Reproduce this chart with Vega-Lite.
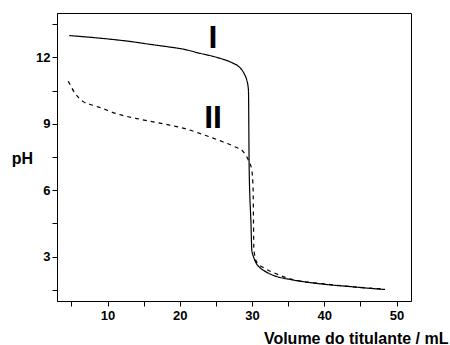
{
  "$schema": "https://vega.github.io/schema/vega-lite/v6.json",
  "width": 354,
  "height": 288,
  "autosize": {"type": "none"},
  "padding": {"left": 57, "top": 13, "right": 39, "bottom": 44},
  "background": "white",
  "config": {
    "font": "Liberation Sans",
    "view": {"stroke": "black", "strokeWidth": 1},
    "axis": {
      "grid": false,
      "domainColor": "black",
      "domainWidth": 1,
      "tickColor": "black",
      "tickSize": 5,
      "labelColor": "black",
      "labelFont": "Liberation Sans",
      "labelFontWeight": "bold",
      "labelFontSize": 13,
      "labelOverlap": false,
      "titleColor": "black",
      "titleFont": "Liberation Sans",
      "titleFontWeight": "bold",
      "titleFontSize": 16
    }
  },
  "encoding": {
    "x": {
      "field": "v", "type": "quantitative",
      "scale": {"domain": [3, 52], "nice": false, "zero": false},
      "axis": {
        "values": [5, 10, 15, 20, 25, 30, 35, 40, 45, 50],
        "labelExpr": "datum.value % 10 === 0 ? format(datum.value, 'd') : ''",
        "labelPadding": 3,
        "title": "Volume do titulante / mL",
        "titleAnchor": "end",
        "titleAlign": "right",
        "titleX": 391,
        "titleY": 42,
        "titleBaseline": "alphabetic"
      }
    },
    "y": {
      "field": "pH", "type": "quantitative",
      "scale": {"domain": [1, 14], "nice": false, "zero": false},
      "axis": {
        "values": [1.5, 3, 4.5, 6, 7.5, 9, 10.5, 12, 13.5],
        "labelExpr": "datum.value % 3 === 0 ? format(datum.value, 'd') : ''",
        "labelPadding": 2,
        "title": "pH",
        "titleAngle": 0,
        "titleAlign": "center",
        "titleBaseline": "middle",
        "titleX": -35,
        "titleY": 145
      }
    }
  },
  "layer": [
    {
      "data": {
        "values": [
          {"v": 4.7, "pH": 12.98, "s": "I"},
          {"v": 7, "pH": 12.92, "s": "I"},
          {"v": 10, "pH": 12.83, "s": "I"},
          {"v": 13, "pH": 12.72, "s": "I"},
          {"v": 16, "pH": 12.58, "s": "I"},
          {"v": 18, "pH": 12.49, "s": "I"},
          {"v": 20.6, "pH": 12.36, "s": "I"},
          {"v": 22.8, "pH": 12.18, "s": "I"},
          {"v": 24.5, "pH": 12.05, "s": "I"},
          {"v": 25.6, "pH": 11.95, "s": "I"},
          {"v": 27.4, "pH": 11.73, "s": "I"},
          {"v": 28.1, "pH": 11.6, "s": "I"},
          {"v": 28.6, "pH": 11.43, "s": "I"},
          {"v": 29.0, "pH": 11.2, "s": "I"},
          {"v": 29.27, "pH": 10.97, "s": "I"},
          {"v": 29.5, "pH": 10.52, "s": "I"},
          {"v": 29.6, "pH": 7.0, "s": "I"},
          {"v": 29.85, "pH": 4.5, "s": "I"},
          {"v": 29.97, "pH": 3.28, "s": "I"},
          {"v": 30.2, "pH": 3.0, "s": "I"},
          {"v": 30.5, "pH": 2.75, "s": "I"},
          {"v": 31.1, "pH": 2.5, "s": "I"},
          {"v": 31.6, "pH": 2.38, "s": "I"},
          {"v": 32.5, "pH": 2.22, "s": "I"},
          {"v": 33.0, "pH": 2.15, "s": "I"},
          {"v": 35.3, "pH": 1.97, "s": "I"},
          {"v": 37.6, "pH": 1.85, "s": "I"},
          {"v": 40.4, "pH": 1.74, "s": "I"},
          {"v": 43.6, "pH": 1.65, "s": "I"},
          {"v": 46, "pH": 1.58, "s": "I"},
          {"v": 48.4, "pH": 1.52, "s": "I"},
          {"v": 4.56, "pH": 10.92, "s": "II"},
          {"v": 5.49, "pH": 10.38, "s": "II"},
          {"v": 6.64, "pH": 10.0, "s": "II"},
          {"v": 8.02, "pH": 9.83, "s": "II"},
          {"v": 9.41, "pH": 9.68, "s": "II"},
          {"v": 10.57, "pH": 9.53, "s": "II"},
          {"v": 11.96, "pH": 9.39, "s": "II"},
          {"v": 14.7, "pH": 9.19, "s": "II"},
          {"v": 18, "pH": 8.98, "s": "II"},
          {"v": 20.6, "pH": 8.79, "s": "II"},
          {"v": 23.5, "pH": 8.48, "s": "II"},
          {"v": 26.0, "pH": 8.18, "s": "II"},
          {"v": 27.5, "pH": 7.98, "s": "II"},
          {"v": 28.8, "pH": 7.73, "s": "II"},
          {"v": 29.5, "pH": 7.35, "s": "II"},
          {"v": 29.96, "pH": 6.9, "s": "II"},
          {"v": 30.15, "pH": 6.0, "s": "II"},
          {"v": 30.2, "pH": 4.5, "s": "II"},
          {"v": 30.25, "pH": 3.4, "s": "II"},
          {"v": 30.4, "pH": 3.0, "s": "II"},
          {"v": 30.65, "pH": 2.75, "s": "II"},
          {"v": 31.6, "pH": 2.5, "s": "II"},
          {"v": 32.96, "pH": 2.28, "s": "II"},
          {"v": 35.3, "pH": 2.0, "s": "II"},
          {"v": 40.4, "pH": 1.76, "s": "II"},
          {"v": 44, "pH": 1.64, "s": "II"},
          {"v": 48.4, "pH": 1.53, "s": "II"}
        ]
      },
      "mark": {"type": "line", "color": "black", "strokeWidth": 1.2, "interpolate": "monotone"},
      "encoding": {
        "detail": {"field": "s"},
        "strokeDash": {
          "field": "s", "type": "nominal",
          "scale": {"domain": ["I", "II"], "range": [[1, 0], [4, 4]]},
          "legend": null
        }
      }
    },
    {
      "data": {
        "values": [
          {"v": 24.6, "pH": 12.85, "t": "I"},
          {"v": 24.6, "pH": 9.27, "t": "II"}
        ]
      },
      "mark": {"type": "text", "font": "Liberation Sans", "fontWeight": "bold", "fontSize": 32, "align": "center", "baseline": "middle", "color": "black"},
      "encoding": {
        "text": {"field": "t"}
      }
    }
  ]
}
